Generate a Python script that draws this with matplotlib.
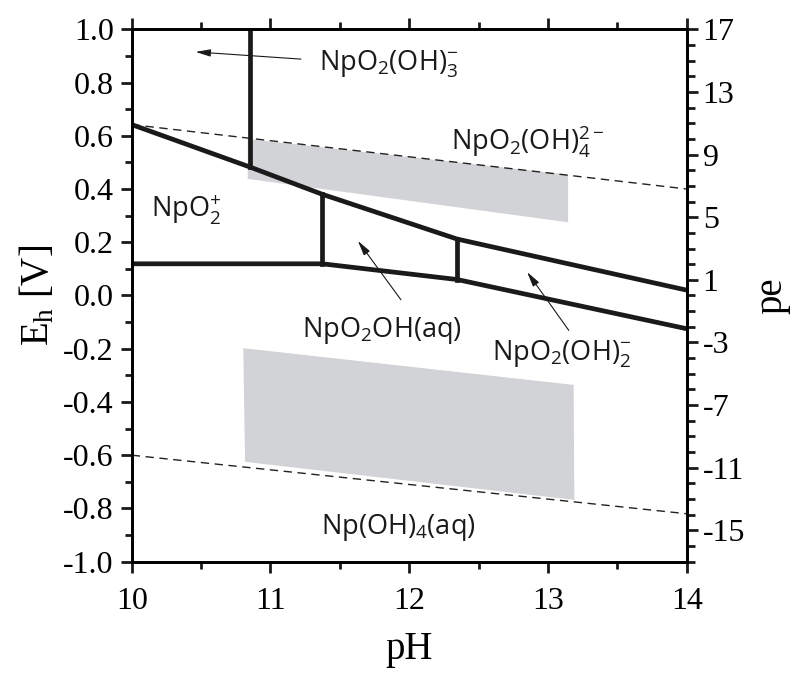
import numpy as np
import matplotlib
matplotlib.use('Agg')
import matplotlib.pyplot as plt
from matplotlib.ticker import MultipleLocator

plt.rcParams['font.family'] = 'Liberation Serif'
plt.rcParams['mathtext.fontset'] = 'custom'
plt.rcParams['mathtext.rm'] = 'Open Sans'
plt.rcParams['mathtext.it'] = 'Liberation Serif'
plt.rcParams['axes.unicode_minus'] = False

# phase boundaries (pH, Eh)
ph_upper = [10.0, 10.855, 11.374, 12.345, 14.0]
eh_upper = [0.642, 0.482, 0.38, 0.212, 0.02]
ph_lower = [10.0, 11.374, 12.345, 14.0]
eh_lower = [0.119, 0.119, 0.06, -0.125]
vert_ph = [10.855, 11.374, 12.345]
vert_bot = [0.482, 0.119, 0.06]
vert_top = [1.0, 0.38, 0.212]

# water stability limits (dashed)
water_ph = [10.0, 14.0]
o2_eh = [0.642, 0.40]
h2_eh = [-0.60, -0.82]

# grey regions
gray_up_ph = [10.836, 13.145, 13.145, 10.836]
gray_up_eh = [0.588, 0.454, 0.275, 0.438]
gray_lo_ph = [10.804, 13.185, 13.19, 10.817]
gray_lo_eh = [-0.198, -0.336, -0.768, -0.625]

# species labels
lab_text = [r'$\mathrm{NpO_2(OH)_3^{-}}$', r'$\mathrm{NpO_2(OH)_4^{2-}}$',
            r'$\mathrm{NpO_2^{+}}$', r'$\mathrm{NpO_2OH(aq)}$',
            r'$\mathrm{NpO_2(OH)_2^{-}}$', r'$\mathrm{Np(OH)_4(aq)}$']
lab_ph = [11.85, 12.85, 10.39, 11.8, 13.1, 11.92]
lab_eh = [0.87, 0.58, 0.32, -0.13, -0.22, -0.87]

# arrows (head, tail)
arr_head = [(10.46, 0.915), (11.63, 0.205), (12.85, 0.088)]
arr_tail = [(11.22, 0.888), (11.94, -0.016), (13.15, -0.131)]

fig = plt.figure(figsize=(7.95, 6.75), dpi=100)
ax = fig.add_axes([0.1657, 0.1679, 0.6981, 0.7887])

ax.fill(gray_up_ph, gray_up_eh, color='#d2d3d6', lw=0, zorder=1)
ax.fill(gray_lo_ph, gray_lo_eh, color='#d2d3d6', lw=0, zorder=1)

ax.plot(water_ph, o2_eh, '--', color='#222222', lw=1.0, dashes=(6, 4), zorder=2)
ax.plot(water_ph, h2_eh, '--', color='#222222', lw=1.0, dashes=(6, 4), zorder=2)

ax.plot(ph_upper, eh_upper, color='#1a1a1a', lw=3.4, solid_joinstyle='miter', zorder=3)
ax.plot(ph_lower, eh_lower, color='#1a1a1a', lw=3.4, solid_joinstyle='miter', zorder=3)
for p, b, t in zip(vert_ph, vert_bot, vert_top):
    ax.plot([p, p], [b, t], color='#1a1a1a', lw=3.4, zorder=3)

for h, t in zip(arr_head, arr_tail):
    ax.annotate('', xy=h, xytext=t,
                arrowprops=dict(arrowstyle='-|>,head_length=0.9,head_width=0.22',
                                lw=0.8, color='#1a1a1a', shrinkA=0, shrinkB=0))

for s, x, y in zip(lab_text, lab_ph, lab_eh):
    ax.text(x, y, s, fontsize=19.5, ha='center', va='center', color='#1a1a1a')

ax.set_xlim(10, 14)
ax.set_ylim(-1.0, 1.0)
ax.xaxis.set_major_locator(MultipleLocator(1))
ax.xaxis.set_minor_locator(MultipleLocator(0.5))
ax.yaxis.set_major_locator(MultipleLocator(0.2))
ax.yaxis.set_minor_locator(MultipleLocator(0.1))
ax.yaxis.set_major_formatter(plt.FormatStrFormatter('%.1f'))
ax.tick_params(which='both', direction='out', width=2, labelsize=23,
               top=True, labeltop=False, color='#1a1a1a')
ax.tick_params(which='major', length=8)
ax.tick_params(which='minor', length=5)
ax.tick_params(axis='x', which='major', pad=10)
ax.tick_params(axis='y', which='major', pad=5)
for sp in ax.spines.values():
    sp.set_linewidth(2)
    sp.set_color('#1a1a1a')

ax.set_xlabel('pH', fontsize=28, labelpad=11)
ax.set_ylabel(r'$\mathit{E_h}$ [V]', fontsize=28, labelpad=4)

ax2 = ax.twinx()
ax2.set_ylim(-17, 17)
ax2.set_yticks(np.arange(-15, 18, 4))
ax2.yaxis.set_minor_locator(MultipleLocator(1))
ax2.tick_params(which='both', direction='out', width=2, labelsize=23, color='#1a1a1a')
ax2.tick_params(which='major', length=8)
ax2.tick_params(which='minor', length=6)
for sp in ax2.spines.values():
    sp.set_linewidth(2)
ax2.set_ylabel('pe', fontsize=28, labelpad=6)

fig.savefig('out.png', dpi=100)
